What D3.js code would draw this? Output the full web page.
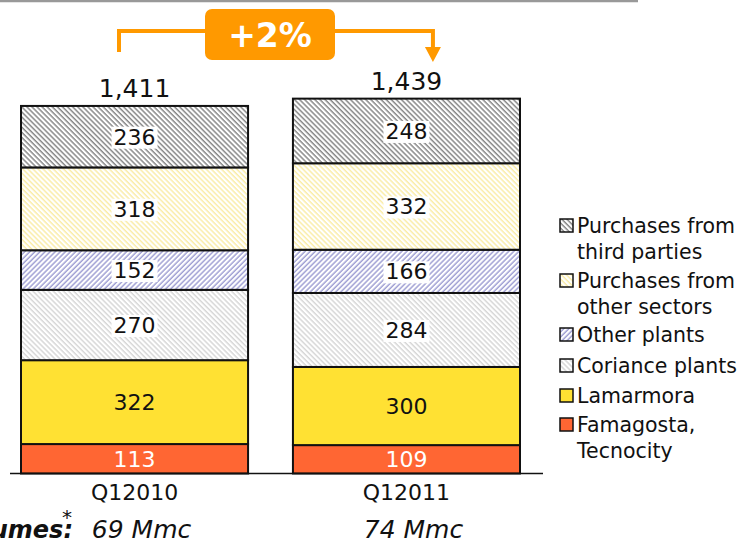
<!DOCTYPE html>
<html>
<head>
<meta charset="utf-8">
<script src="https://cdn.jsdelivr.net/npm/d3@7"></script>
<style>
  body { margin: 0; background: #fff; }
  svg { display: block; font-family: "DejaVu Sans", Verdana, sans-serif; }
</style>
</head>
<body>
<div id="viz"></div>
<script>
// data
var categories = ['Q12010', 'Q12011'];
var volumes = ['69 Mmc', '74 Mmc'];
var seriesNames = ['Famagosta, Tecnocity', 'Lamarmora', 'Coriance plants', 'Other plants',
                   'Purchases from other sectors', 'Purchases from third parties'];
var famagosta = [113, 109];
var lamarmora = [322, 300];
var coriance = [270, 284];
var otherPlants = [152, 166];
var otherSectors = [318, 332];
var thirdParties = [236, 248];
var totals = [1411, 1439];
var growthLabel = '+2%';

// legend is listed top to bottom, split on lines like the picture
var legendLines = [
  ['Purchases from', 'third parties'],
  ['Purchases from', 'other sectors'],
  ['Other plants'],
  ['Coriance plants'],
  ['Lamarmora'],
  ['Famagosta,', 'Tecnocity']
];

var series = [famagosta, lamarmora, coriance, otherPlants, otherSectors, thirdParties];

var width = 747, height = 540;

var fills = [
  { id: null, color: '#ff6633' },
  { id: null, color: '#ffe133' },
  { id: 'hCor', line: '#bdbdbd', angle: -45 },
  { id: 'hOth', line: '#6262b8', angle: 45 },
  { id: 'hSec', line: '#f7e070', angle: -45 },
  { id: 'hThr', line: '#3a3a3a', angle: -45 }
];

var svg = d3.select('#viz').append('svg')
  .attr('width', width)
  .attr('height', height);

var defs = svg.append('defs');
fills.forEach(function(f) {
  if (!f.id) return;
  var p = defs.append('pattern')
    .attr('id', f.id)
    .attr('patternUnits', 'userSpaceOnUse')
    .attr('width', 3.6)
    .attr('height', 3.6)
    .attr('patternTransform', 'rotate(' + f.angle + ')');
  p.append('rect').attr('width', 3.6).attr('height', 3.6).attr('fill', '#fff');
  p.append('line')
    .attr('x1', 1).attr('y1', 0).attr('x2', 1).attr('y2', 3.6)
    .attr('stroke', f.line)
    .attr('stroke-width', 0.9);
});
function fillOf(i) {
  return fills[i].id ? 'url(#' + fills[i].id + ')' : fills[i].color;
}

// top grey rule
svg.append('line')
  .attr('x1', 0).attr('x2', 638)
  .attr('y1', 1).attr('y2', 1)
  .attr('stroke', '#999').attr('stroke-width', 2.5);

var xScale = d3.scaleBand()
  .domain(categories)
  .range([21, 520])
  .paddingInner(0.165)
  .paddingOuter(0);

var yScale = d3.scaleLinear()
  .domain([0, 1500])
  .range([473.5, 82.75]);

// stack
var rows = categories.map(function(c, i) {
  var o = { cat: c };
  seriesNames.forEach(function(s, k) { o[s] = series[k][i]; });
  return o;
});
var stacked = d3.stack().keys(seriesNames)(rows);

var layers = svg.append('g').selectAll('g')
  .data(stacked)
  .enter().append('g');

layers.selectAll('rect')
  .data(function(d) { return d.map(function(v) { return { v: v, k: d.index }; }); })
  .enter().append('rect')
    .attr('x', function(d) { return xScale(d.v.data.cat); })
    .attr('width', xScale.bandwidth())
    .attr('y', function(d) { return yScale(d.v[1]); })
    .attr('height', function(d) { return yScale(d.v[0]) - yScale(d.v[1]); })
    .attr('fill', function(d) { return fillOf(d.k); })
    .attr('stroke', '#111')
    .attr('stroke-width', 2);

// segment labels
var labels = svg.append('g');
stacked.forEach(function(layer) {
  layer.forEach(function(v) {
    var cx = xScale(v.data.cat) + xScale.bandwidth() / 2;
    var cy = (yScale(v[0]) + yScale(v[1])) / 2;
    var g = labels.append('g');
    var t = g.append('text')
      .attr('x', cx)
      .attr('y', cy + 8)
      .attr('text-anchor', 'middle')
      .attr('font-size', 22)
      .attr('fill', layer.index === 0 ? '#fff' : '#111')
      .text(v[1] - v[0]);
    if (fills[layer.index].id) {
      var b = t.node().getBBox();
      g.insert('rect', 'text')
        .attr('x', b.x - 2).attr('y', b.y + 2)
        .attr('width', b.width + 4).attr('height', b.height - 3)
        .attr('fill', '#fff');
    }
  });
});

// totals
svg.append('g').selectAll('text')
  .data(totals)
  .enter().append('text')
    .attr('x', function(d, i) { return xScale(categories[i]) + xScale.bandwidth() / 2; })
    .attr('y', function(d) { return yScale(d) - 9; })
    .attr('text-anchor', 'middle')
    .attr('font-size', 25)
    .attr('fill', '#111')
    .text(d3.format(','));

// baseline
svg.append('line')
  .attr('x1', 10).attr('x2', 543)
  .attr('y1', yScale(0)).attr('y2', yScale(0))
  .attr('stroke', '#111').attr('stroke-width', 1.5);

// category labels
svg.append('g').selectAll('text')
  .data(categories)
  .enter().append('text')
    .attr('x', function(d) { return xScale(d) + xScale.bandwidth() / 2; })
    .attr('y', 500)
    .attr('text-anchor', 'middle')
    .attr('font-size', 22)
    .attr('fill', '#111')
    .text(function(d) { return d; });

// volumes row (the row title runs off the left edge, as in the picture)
svg.append('text')
  .attr('x', 73).attr('y', 537.5)
  .attr('text-anchor', 'end')
  .attr('font-size', 24)
  .attr('font-weight', 'bold')
  .attr('font-style', 'italic')
  .attr('fill', '#111')
  .text('Volumes:');
svg.append('text')
  .attr('x', 67).attr('y', 524)
  .attr('text-anchor', 'middle')
  .attr('font-size', 20)
  .attr('fill', '#111')
  .text('*');
svg.append('g').selectAll('text')
  .data(volumes)
  .enter().append('text')
    .attr('x', function(d, i) { return xScale(categories[i]) + xScale.bandwidth() / 2 + 7; })
    .attr('y', 537.5)
    .attr('text-anchor', 'middle')
    .attr('font-size', 25)
    .attr('font-style', 'italic')
    .attr('fill', '#111')
    .text(function(d) { return d; });

// growth bracket
var orange = '#ff9900';
var lx = xScale(categories[0]) + 98,
    rx = xScale(categories[1]) + 140;
svg.append('path')
  .attr('d', 'M' + lx + ',52 V31 H' + rx + ' V50')
  .attr('fill', 'none')
  .attr('stroke', orange)
  .attr('stroke-width', 4);
svg.append('path')
  .attr('d', 'M' + (rx - 8) + ',47 L' + (rx + 8) + ',47 L' + rx + ',62 Z')
  .attr('fill', orange);
svg.append('rect')
  .attr('x', 205).attr('y', 9)
  .attr('width', 130).attr('height', 51)
  .attr('rx', 7)
  .attr('fill', orange);
svg.append('text')
  .attr('x', 270).attr('y', 47)
  .attr('text-anchor', 'middle')
  .attr('font-size', 33)
  .attr('font-weight', 'bold')
  .attr('fill', '#fff')
  .text(growthLabel);

// legend
var legendTops = [233, 288, 342, 373, 403, 432];
var legend = svg.append('g');
legendLines.forEach(function(lines, i) {
  var k = seriesNames.length - 1 - i;
  var y = legendTops[i];
  legend.append('rect')
    .attr('x', 560).attr('y', y - 14)
    .attr('width', 13).attr('height', 13)
    .attr('fill', fillOf(k))
    .attr('stroke', '#111')
    .attr('stroke-width', 1.5);
  lines.forEach(function(l, j) {
    legend.append('text')
      .attr('x', 577)
      .attr('y', y + j * 25.5)
      .attr('font-size', 20.5)
      .attr('fill', '#111')
      .text(l);
  });
});
</script>
</body>
</html>
